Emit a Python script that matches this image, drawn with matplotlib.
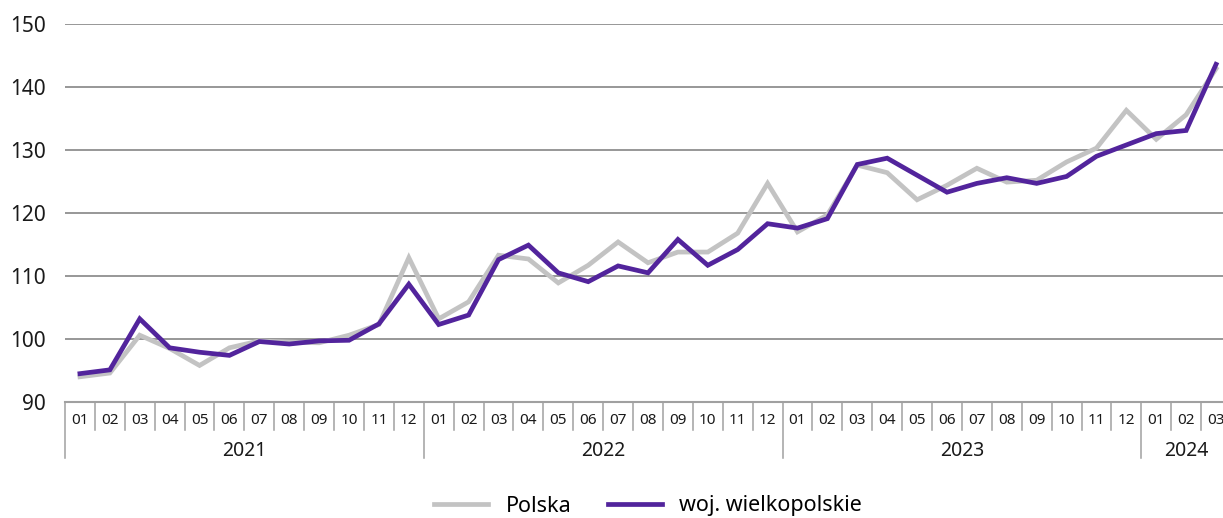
import matplotlib.pyplot as plt
import matplotlib.transforms as mtransforms

# Dane (indeks), 2021-01 .. 2024-03
years = ['2021', '2022', '2023', '2024']
months_per_year = [12, 12, 12, 3]
polska = [94.0, 94.6, 100.6, 98.5, 95.8, 98.6, 99.7, 99.5, 99.4, 100.6, 102.3, 112.9,
          103.2, 105.9, 113.3, 112.7, 108.9, 111.7, 115.4, 112.1, 113.8, 113.8, 116.8, 124.7,
          117.0, 119.7, 127.6, 126.4, 122.1, 124.4, 127.1, 124.9, 125.2, 128.1, 130.3, 136.3,
          131.7, 135.6, 142.9]
wielkopolskie = [94.5, 95.1, 103.2, 98.6, 97.9, 97.4, 99.6, 99.2, 99.7, 99.8, 102.4, 108.7,
                 102.3, 103.8, 112.6, 114.9, 110.5, 109.1, 111.6, 110.5, 115.8, 111.7, 114.2, 118.3,
                 117.6, 119.1, 127.7, 128.7, 126.0, 123.3, 124.7, 125.6, 124.7, 125.8, 129.0, 130.8,
                 132.6, 133.1, 143.6]

month_labels = []
for n in months_per_year:
    month_labels += [f'{m:02d}' for m in range(1, n + 1)]

plt.rcParams['font.family'] = ['Noto Sans', 'DejaVu Sans']

fig = plt.figure(figsize=(12.23, 5.18), dpi=100)
W, H = 1223, 518
left, top, bottom = 65, 24, 402
ax = fig.add_axes([left / W, 1 - bottom / H, (W - left) / W, (bottom - top) / H])

x = list(range(len(polska)))
cell = (1231 - left) / len(polska)
ax.plot(x, polska, color='#c3c3c3', lw=3.4, solid_joinstyle='miter', label='Polska', zorder=3)
ax.plot(x, wielkopolskie, color='#52249c', lw=3.4, solid_joinstyle='miter',
        label='woj. wielkopolskie', zorder=4)

ax.set_ylim(90, 150)
ax.set_yticks(range(90, 151, 10))
ax.set_xlim(-0.5, -0.5 + (W - left) / cell)
ax.grid(axis='y', color='#7a7a7a', lw=1.1, zorder=1)
for s in ax.spines.values():
    s.set_visible(False)
ax.set_xticks([])
ax.tick_params(axis='y', length=0, pad=14, labelsize=15, labelcolor='#1a1a1a')

# kategoria: miesiące i lata
tr = mtransforms.blended_transform_factory(ax.transData, ax.transAxes)
ph = bottom - top
m_depth = -28 / ph
y_depth = -56 / ph
sep_color = '#a0a0a0'
ax.plot([-0.5, len(x) + 0.5], [0, 0], transform=tr, color='#a0a0a0', lw=1.5,
        clip_on=False, zorder=2)
i = 0
for year, n in zip(years, months_per_year):
    ax.plot([i - 0.5, i - 0.5], [0, y_depth], transform=tr, color=sep_color, lw=1.1, clip_on=False)
    for k in range(n):
        if k > 0:
            ax.plot([i + k - 0.5, i + k - 0.5], [0, m_depth], transform=tr, color=sep_color,
                    lw=1.1, clip_on=False)
        ax.text(i + k, -19 / ph, month_labels[i + k], transform=tr, ha='center', va='center',
                fontsize=11, color='#1a1a1a')
    ax.text(i + (n - 1) / 2, -49 / ph, year, transform=tr, ha='center', va='center',
            fontsize=14, color='#1a1a1a')
    i += n
ax.plot([i - 0.5, i - 0.5], [0, y_depth], transform=tr, color=sep_color, lw=1.1, clip_on=False)

fig.legend(loc='center', bbox_to_anchor=(648 / W, 1 - 506 / H), ncol=2, frameon=False,
           fontsize=15.5, handlelength=2.5, columnspacing=1.7, handletextpad=0.8)

fig.savefig('out.png', dpi=100)
